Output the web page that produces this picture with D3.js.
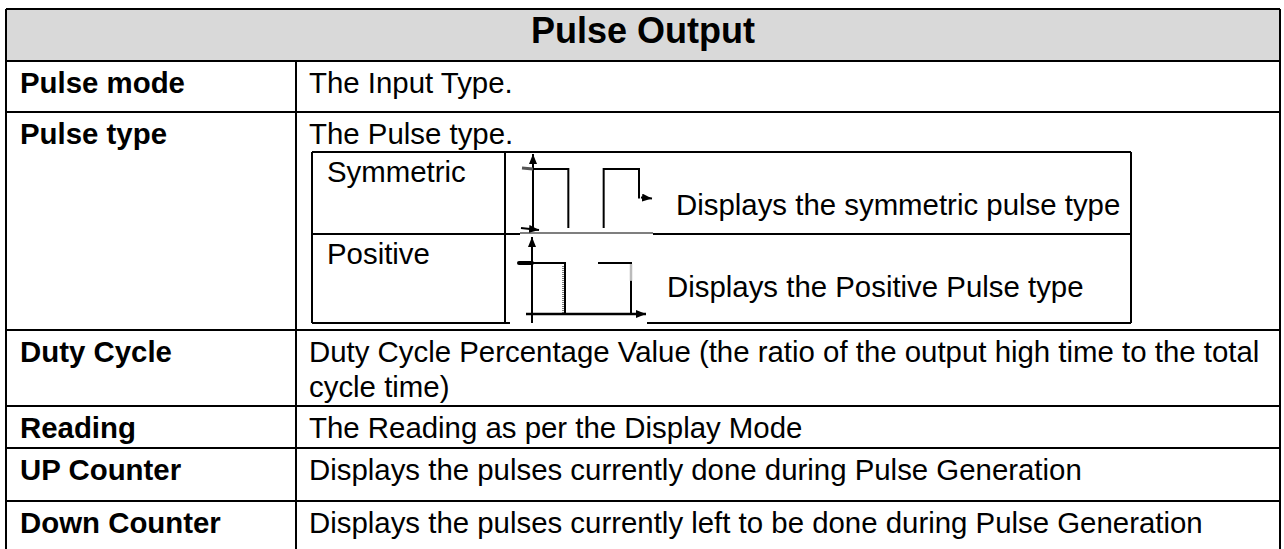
<!DOCTYPE html>
<html><head><meta charset="utf-8">
<script src="https://cdn.jsdelivr.net/npm/d3@7"></script>
<style>
body{margin:0;background:#fff}
svg{display:block}
text{font-family:"Liberation Sans",Arial,sans-serif;fill:#000}
</style>
</head><body>
<svg id="c" width="1284" height="549"></svg>
<script>
// ---------- data ----------
const title = "Pulse Output";
const rowLabels = ["Pulse mode","Pulse type","Duty Cycle","Reading","UP Counter","Down Counter"];
const rowDescriptions = [
  ["The Input Type."],
  ["The Pulse type."],
  ["Duty Cycle Percentage Value (the ratio of the output high time to the total","cycle time)"],
  ["The Reading as per the Display Mode"],
  ["Displays the pulses currently done during Pulse Generation"],
  ["Displays the pulses currently left to be done during Pulse Generation"]
];
const pulseTypes = ["Symmetric","Positive"];
const pulseTypeDescriptions = ["Displays the symmetric pulse type","Displays the Positive Pulse type"];
// waveforms: [time, level]
const symmetricPulse1 = [[0,1],[1,1],[1,0]];
const symmetricPulse2 = [[2,0],[2,1],[3,1],[3,0.5]];
const positivePulse1 = [[0,1],[1,1],[1,0]];
const positivePulse2 = [[2,1],[3,1],[3,0]];

// ---------- layout ----------
const L = {left:6,right:1280,top:9,headerBottom:61,colX:296,bottom:549,
  rowTops:[61,112,330,406,448,501], labelX:20, descX:309, baseOff:32, lineH:35,
  body:29.4, head:36,
  inner:{left:312,mid:505,right:1131,top:152,midY:234,bottom:323}};

const svg = d3.select("#c");
const defs = svg.append("defs");
defs.append("marker").attr("id","arr").attr("viewBox","0 0 10 8").attr("refX",10).attr("refY",4)
  .attr("markerWidth",10).attr("markerHeight",8).attr("markerUnits","userSpaceOnUse").attr("orient","auto")
  .append("path").attr("d","M0,0L10,4L0,8Z").attr("fill","#000");

// header
svg.append("rect").attr("x",L.left).attr("y",L.top).attr("width",L.right-L.left).attr("height",L.headerBottom-L.top).attr("fill","#d9d9d9");
svg.append("text").attr("x",(L.left+L.right)/2).attr("y",43).attr("text-anchor","middle")
  .attr("font-size",L.head).attr("font-weight","bold").text(title);

const line = (x1,y1,x2,y2,w=2,c="#000") => svg.append("line").attr("x1",x1).attr("y1",y1).attr("x2",x2).attr("y2",y2).attr("stroke",c).attr("stroke-width",w);

// rows
rowLabels.forEach((lab,i)=>{
  const top = L.rowTops[i];
  svg.append("text").attr("x",L.labelX).attr("y",top+L.baseOff).attr("font-size",L.body).attr("font-weight","bold").text(lab);
  rowDescriptions[i].forEach((t,j)=>{
    svg.append("text").attr("x",L.descX).attr("y",top+L.baseOff+j*L.lineH).attr("font-size",L.body).text(t);
  });
});

// inner table
const I = L.inner;
line(I.left,I.top,I.right,I.top);
line(I.left,I.top,I.left,I.bottom);
line(I.right,I.top,I.right,I.bottom);
line(I.mid,I.top,I.mid,I.bottom);
line(I.left,I.midY,520,I.midY);
line(520,I.midY-1,653,I.midY-1,1.2,"#000");
line(653,I.midY,I.right,I.midY);
line(I.left,I.bottom,510,I.bottom);
line(647,I.bottom,I.right,I.bottom);
const subTops=[I.top,I.midY];
pulseTypes.forEach((p,i)=>{
  svg.append("text").attr("x",327).attr("y",subTops[i]+30).attr("font-size",L.body).text(p);
});
svg.append("text").attr("x",676).attr("y",215).attr("font-size",L.body).text(pulseTypeDescriptions[0]);
svg.append("text").attr("x",667).attr("y",297).attr("font-size",L.body).text(pulseTypeDescriptions[1]);

// symmetric diagram
{
  const x = d3.scaleLinear([0,3],[533,639]);
  const y = d3.scaleLinear([0,1],[228,169]);
  const g = svg.append("g");
  const ln = d3.line().x(d=>x(d[0])).y(d=>y(d[1]));
  g.append("line").attr("x1",x(0)).attr("y1",231).attr("x2",x(0)).attr("y2",154).attr("stroke","#000").attr("stroke-width",2).attr("marker-end","url(#arr)");
  g.append("line").attr("x1",522).attr("y1",y(1)-1).attr("x2",x(0)).attr("y2",y(1)).attr("stroke","#555").attr("stroke-width",3);
  g.append("line").attr("x1",521).attr("y1",y(0)).attr("x2",539).attr("y2",y(0)+2).attr("stroke","#000").attr("stroke-width",2).attr("marker-end","url(#arr)");
  [symmetricPulse1,symmetricPulse2].forEach(p=>g.append("path").attr("d",ln(p)).attr("fill","none").attr("stroke","#000").attr("stroke-width",2));
  g.append("line").attr("x1",x(3)+2).attr("y1",y(0.5)-1).attr("x2",652).attr("y2",y(0.5)).attr("stroke","#000").attr("stroke-width",2).attr("marker-end","url(#arr)");
}
// positive diagram
{
  const x = d3.scaleLinear([0,3],[532,631]);
  const y = d3.scaleLinear([0,1],[314,263]);
  const g = svg.append("g");
  const ln = d3.line().x(d=>x(d[0])).y(d=>y(d[1]));
  g.append("line").attr("x1",x(0)).attr("y1",323).attr("x2",x(0)).attr("y2",237).attr("stroke","#000").attr("stroke-width",2).attr("marker-end","url(#arr)");
  g.append("line").attr("x1",526).attr("y1",y(0)).attr("x2",646).attr("y2",y(0)).attr("stroke","#000").attr("stroke-width",2.5).attr("marker-end","url(#arr)");
  g.append("line").attr("x1",519).attr("y1",y(1)).attr("x2",x(0)).attr("y2",y(1)).attr("stroke","#000").attr("stroke-width",4).attr("stroke-linecap","round");
  g.append("line").attr("x1",x(1)-2).attr("y1",y(1)+3).attr("x2",x(1)-2).attr("y2",y(0)).attr("stroke","#000").attr("stroke-width",1).attr("stroke-dasharray","1,1");
  [positivePulse1,positivePulse2].forEach(p=>g.append("path").attr("d",ln(p)).attr("fill","none").attr("stroke","#000").attr("stroke-width",2));
  g.append("line").attr("x1",x(3)).attr("y1",y(1)+1).attr("x2",x(3)).attr("y2",y(0.65)).attr("stroke","#bbb").attr("stroke-width",2.5);
}

// outer grid
line(L.left,L.top,L.right,L.top);
line(L.left,L.top,L.left,L.bottom);
line(L.right,L.top,L.right,L.bottom);
line(L.colX,L.headerBottom,L.colX,L.bottom);
L.rowTops.forEach(t=>line(L.left,t,L.right,t));
</script>
</body></html>
